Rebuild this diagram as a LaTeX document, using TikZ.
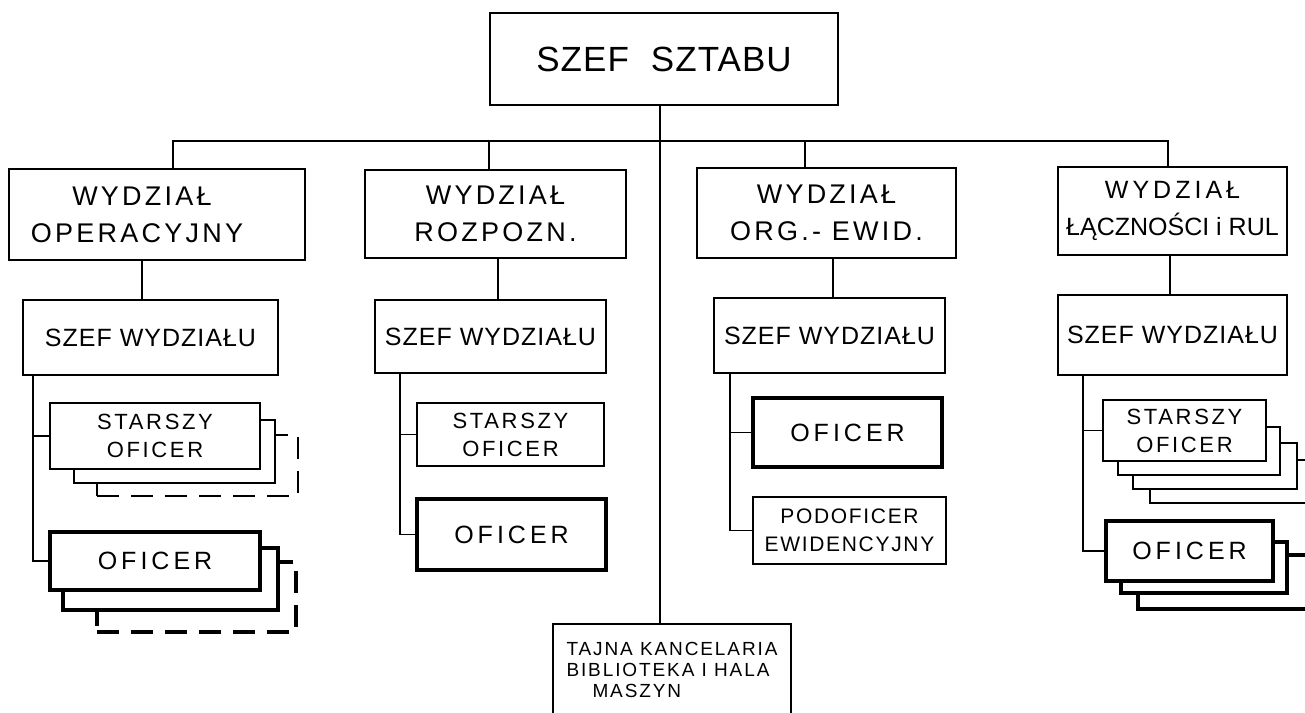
\documentclass[tikz,border=0pt]{standalone}
\usepackage{fontspec}
\setmainfont{Liberation Sans}
\newfontfamily\hand{Liberation Sans}
\begin{document}
\begin{tikzpicture}[x=1pt,y=-1pt,
  box/.style={draw, line width=1.7pt, fill=white, inner sep=0pt, align=center},
  heavy/.style={box, line width=3.1pt},
  ghost/.style={draw, line width=1.7pt, fill=white, inner sep=0pt},
  ghostheavy/.style={ghost, line width=3.1pt},
  ghostdash/.style={dash pattern=on 22pt off 12pt},
  link/.style={line width=1.7pt},
  ftop/.style={font={\hand\fontsize{35}{40}\selectfont\addfontfeatures{LetterSpace=3}}},
  fdiv/.style={font={\hand\fontsize{27}{37}\selectfont\addfontfeatures{LetterSpace=12}}},
  fdivs/.style={font={\hand\fontsize{25}{37}\selectfont}},
  fchief/.style={font={\hand\fontsize{25}{30}\selectfont\addfontfeatures{LetterSpace=4}}},
  fsmall/.style={font={\hand\fontsize{22}{28}\selectfont\addfontfeatures{LetterSpace=12}}},
  fof/.style={font={\hand\fontsize{25}{28}\selectfont\addfontfeatures{LetterSpace=16}}},
  fpod/.style={font={\hand\fontsize{21}{28}\selectfont\addfontfeatures{LetterSpace=8}}},
  ftaj/.style={font={\hand\fontsize{19}{21}\selectfont\addfontfeatures{LetterSpace=10}}},
]
\useasboundingbox (0,0) rectangle (1305,712);
\clip (0,0) rectangle (1305,712);

% connector columns
\coordinate (bus) at (0,141);
\coordinate (b1) at (173,0); \coordinate (b2) at (489,0);
\coordinate (b3) at (805,0); \coordinate (b4) at (1168,0);
\coordinate (trunk) at (660,0);
\coordinate (d1) at (142,0); \coordinate (d2) at (498,0);
\coordinate (d3) at (833,0); \coordinate (d4) at (1170,0);
\coordinate (v1) at (33,0); \coordinate (v2) at (400,0);
\coordinate (v3) at (730,0); \coordinate (v4) at (1083,0);

% top
\node[box, ftop, minimum width=348pt, minimum height=92pt] (top) at (664,59) {SZEF\hspace{22pt}SZTABU};

% divisions
\node[box, fdiv, minimum width=296pt, minimum height=91pt] (W1) at (157,214.5) {WYDZIAŁ\hspace*{30pt}\\OPERACYJNY\hspace*{40pt}};
\node[box, fdiv, minimum width=261pt, minimum height=88pt] (W2) at (495.5,214) {WYDZIAŁ\\ROZPOZN.};
\node[box, fdiv, minimum width=259pt, minimum height=90pt] (W3) at (826.5,213) {WYDZIAŁ\\ORG.- EWID.};
\node[box, fdivs, minimum width=229pt, minimum height=88pt] (W4) at (1172.5,211) {{\addfontfeatures{LetterSpace=16}WYDZIAŁ}\\ŁĄCZNOŚCI i RUL};

% chiefs
\node[box, fchief, minimum width=255pt, minimum height=75pt] (S1) at (150.5,337.5) {SZEF WYDZIAŁU};
\node[box, fchief, minimum width=231pt, minimum height=73pt] (S2) at (490.5,336.5) {SZEF WYDZIAŁU};
\node[box, fchief, minimum width=231pt, minimum height=75pt] (S3) at (829.5,335.5) {SZEF WYDZIAŁU};
\node[box, fchief, minimum width=229pt, minimum height=80pt] (S4) at (1172.5,335) {SZEF WYDZIAŁU};

% column 1
\node[ghost, ghostdash, minimum width=201pt, minimum height=61pt] (ST1c) at (197.5,465.5) {};
\node[ghost, minimum width=201pt, minimum height=63pt] (ST1b) at (174.5,451.5) {};
\node[box, fsmall, minimum width=210pt, minimum height=66pt] (ST1) at (155,436) {STARSZY\\OFICER};
\node[ghostheavy, ghostdash, minimum width=199pt, minimum height=70pt] (OF1c) at (196.5,597) {};
\node[ghostheavy, minimum width=215pt, minimum height=62pt] (OF1b) at (170.5,579) {};
\node[heavy, fof, minimum width=210pt, minimum height=58pt] (OF1) at (155,561) {OFICER};

% column 2
\node[box, fsmall, minimum width=187pt, minimum height=63pt] (ST2) at (510.5,434.5) {STARSZY\\OFICER};
\node[heavy, fof, minimum width=189pt, minimum height=71pt] (OF2) at (511.5,534.5) {OFICER};

% column 3
\node[heavy, fof, minimum width=189pt, minimum height=69pt] (OF3) at (847.5,432.5) {OFICER};
\node[box, fpod, minimum width=193pt, minimum height=67pt] (POD3) at (849.5,530.5) {PODOFICER\\EWIDENCYJNY};

% column 4
\node[ghost, minimum width=180pt, minimum height=43pt] (ST4d) at (1240,481.5) {};
\node[ghost, minimum width=164pt, minimum height=46pt] (ST4c) at (1215,466) {};
\node[ghost, minimum width=162pt, minimum height=48pt] (ST4b) at (1199,451) {};
\node[box, fsmall, minimum width=163pt, minimum height=61pt] (ST4) at (1184.5,430.5) {STARSZY\\OFICER};
\node[ghostheavy, minimum width=192pt, minimum height=54pt] (OF4c) at (1234,582) {};
\node[ghostheavy, minimum width=166pt, minimum height=51pt] (OF4b) at (1204,567.5) {};
\node[heavy, fof, minimum width=167pt, minimum height=60pt] (OF4) at (1189.5,551) {OFICER};

% secret office
\node[box, ftaj, align=left, anchor=north, minimum width=238pt, inner ysep=18pt, text depth=60pt] (T) at (672,623) {TAJNA KANCELARIA\\BIBLIOTEKA I HALA\\\hspace*{26pt}MASZYN};

% connectors
\draw[link] (b1 |- W1.north) -- (b1 |- bus) -- (b4 |- bus) -- (b4 |- W4.north);
\draw[link] (b2 |- bus) -- (b2 |- W2.north);
\draw[link] (b3 |- bus) -- (b3 |- W3.north);
\draw[link] (trunk |- top.south) -- (trunk |- T.north);
\draw[link] (d1 |- W1.south) -- (d1 |- S1.north);
\draw[link] (d2 |- W2.south) -- (d2 |- S2.north);
\draw[link] (d3 |- W3.south) -- (d3 |- S3.north);
\draw[link] (d4 |- W4.south) -- (d4 |- S4.north);
\draw[link] (v1 |- S1.south) |- (OF1.west);
\draw[link] (v1 |- ST1.west) -- (ST1.west);
\draw[link] (v2 |- S2.south) |- (OF2.west);
\draw[link] (v2 |- ST2.west) -- (ST2.west);
\draw[link] (v3 |- S3.south) |- (POD3.west);
\draw[link] (v3 |- OF3.west) -- (OF3.west);
\draw[link] (v4 |- S4.south) |- (OF4.west);
\draw[link] (v4 |- ST4.west) -- (ST4.west);
\end{tikzpicture}
\end{document}
